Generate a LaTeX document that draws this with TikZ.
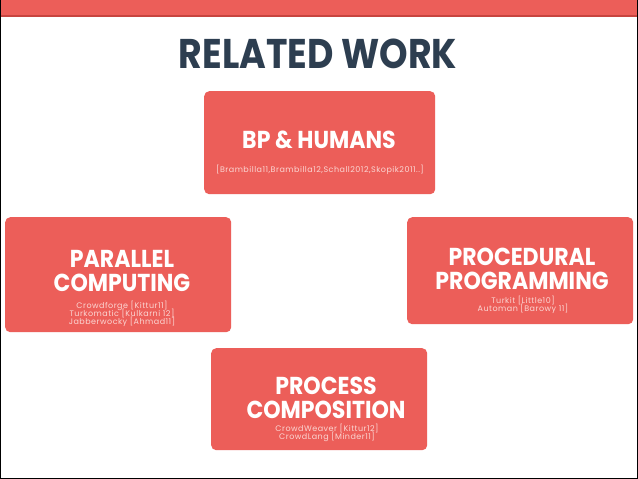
\documentclass[tikz,border=0pt]{standalone}
\usepackage{fontspec}
\setmainfont{Poppins}
\newfontfamily\titlefont{Poppins}[FakeStretch=0.875]
\newfontfamily\headfont{Poppins}[FakeStretch=0.9]
\newfontfamily\subfont{Poppins}[LetterSpace=6]
\newcommand\tightlines{\lineskiplimit-30pt\relax}
\definecolor{coral}{HTML}{EC5E59}
\definecolor{coraldark}{HTML}{C7443F}
\definecolor{navy}{HTML}{2D3E50}
\definecolor{subtxt}{HTML}{FBD6D3}
\begin{document}
\begin{tikzpicture}[x=1pt,y=-1pt,
  card/.style={fill=coral,rounded corners=5pt,inner sep=0pt,anchor=north west},
  head/.style={text=white,font=\headfont\bfseries\fontsize{24.5}{24.5}\selectfont\tightlines,align=center,inner sep=0pt},
  cite/.style={text=subtxt,font=\subfont\fontsize{8}{8}\selectfont\tightlines,align=center,inner sep=0pt}]
\useasboundingbox (0,0) rectangle (638,479);
\fill[white] (0,0) rectangle (638,479);
\fill[coral] (0,0) rectangle (638,16);
\fill[coraldark] (0,15) rectangle (638,17);
\draw[black,line width=1.5pt] (0.5,0) -- (0.5,478.5) -- (637.5,478.5) -- (637.5,0);
\node[text=navy,font=\titlefont\bfseries\fontsize{41.5}{41.5}\selectfont,inner sep=0pt] (title) at (318,54) {RELATED WORK};
% BP & HUMANS
\node[card,minimum width=231pt,minimum height=103pt] (bp) at (204,91) {};
\node[head] (bpt) at (319,140) {BP \& HUMANS};
\node[cite] (bps) at (320,169.5) {[Brambilla11,Brambilla12,Schall2012,Skopik2011..]};
% PARALLEL COMPUTING
\node[card,minimum width=226pt,minimum height=115pt] (pc) at (5,217) {};
\node[head] (pct) at (122,271) {PARALLEL\\COMPUTING};
\node[cite] (pcs) at (122,313.5) {Crowdforge [Kittur11]\\Turkomatic [Kulkarni 12]\\Jabberwocky [Ahmad11]};
% PROCEDURAL PROGRAMMING
\node[card,minimum width=226pt,minimum height=107pt] (pp) at (407,217) {};
\node[head] (ppt) at (522,269) {PROCEDURAL\\PROGRAMMING};
\node[cite] (pps) at (523,305) {Turkit [Little10]\\Automan [Barowy 11]};
% PROCESS COMPOSITION
\node[card,minimum width=216pt,minimum height=102pt] (pr) at (211,348) {};
\node[head] (prt) at (326,398) {PROCESS\\COMPOSITION};
\node[cite] (prs) at (327,432.5) {CrowdWeaver [Kittur12]\\CrowdLang [Minder11]};
\end{tikzpicture}
\end{document}
